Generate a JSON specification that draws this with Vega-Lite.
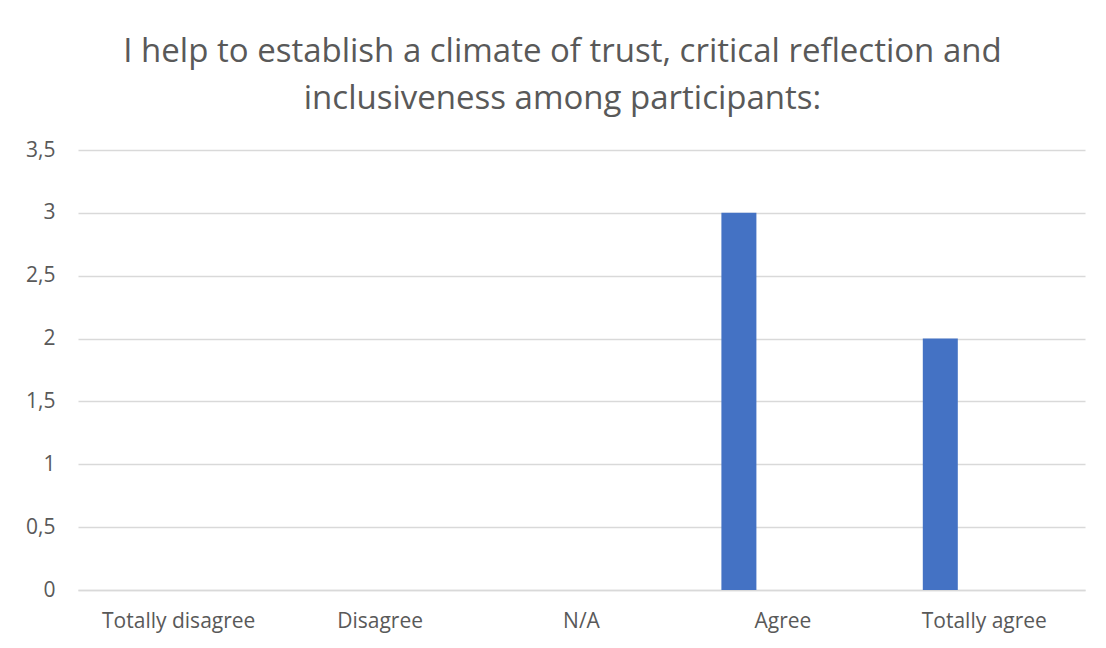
{
  "$schema": "https://vega.github.io/schema/vega-lite/v6.json",
  "width": 1007,
  "height": 440,
  "autosize": {"type": "none"},
  "padding": {"left": 78, "top": 150, "right": 21, "bottom": 58},
  "background": "white",
  "title": {
    "text": ["I help to establish a climate of trust, critical reflection and", "inclusiveness among participants:"],
    "anchor": "middle",
    "frame": "group",
    "dx": -19,
    "fontSize": 33,
    "lineHeight": 47,
    "font": "Open Sans",
    "fontWeight": "normal",
    "color": "#595959",
    "offset": 23
  },
  "data": {
    "values": [
      {"response": "Totally disagree", "series": "Series 1", "count": 0},
      {"response": "Disagree", "series": "Series 1", "count": 0},
      {"response": "N/A", "series": "Series 1", "count": 0},
      {"response": "Agree", "series": "Series 1", "count": 3},
      {"response": "Totally agree", "series": "Series 1", "count": 2}
    ]
  },
  "mark": {"type": "bar", "color": "#4472C4"},
  "encoding": {
    "x": {
      "field": "response",
      "type": "nominal",
      "sort": null,
      "scale": {"domain": ["Totally disagree", "Disagree", "N/A", "Agree", "Totally agree"], "paddingInner": 0, "paddingOuter": 0},
      "axis": {"title": null, "labelAngle": 0, "domain": true, "domainColor": "#d9d9d9", "domainWidth": 1.5, "ticks": false, "labelPadding": 20, "labelFont": "Open Sans", "labelFontSize": 21, "labelColor": "#595959"}
    },
    "xOffset": {
      "field": "series",
      "type": "nominal",
      "scale": {"domain": ["Series 1", "Series 2", "Series 3"], "paddingInner": 0.2045, "paddingOuter": 0.891}
    },
    "y": {
      "field": "count",
      "type": "quantitative",
      "scale": {"domain": [0, 3.5], "nice": false},
      "axis": {"title": null, "values": [0, 0.5, 1, 1.5, 2, 2.5, 3, 3.5], "labelExpr": "replace(format(datum.value, '~g'), '.', ',')", "domain": false, "ticks": false, "labelPadding": 23, "gridColor": "#d9d9d9", "gridWidth": 1.5, "labelFont": "Open Sans", "labelFontSize": 21, "labelColor": "#595959"}
    }
  },
  "config": {"view": {"stroke": null}}
}
